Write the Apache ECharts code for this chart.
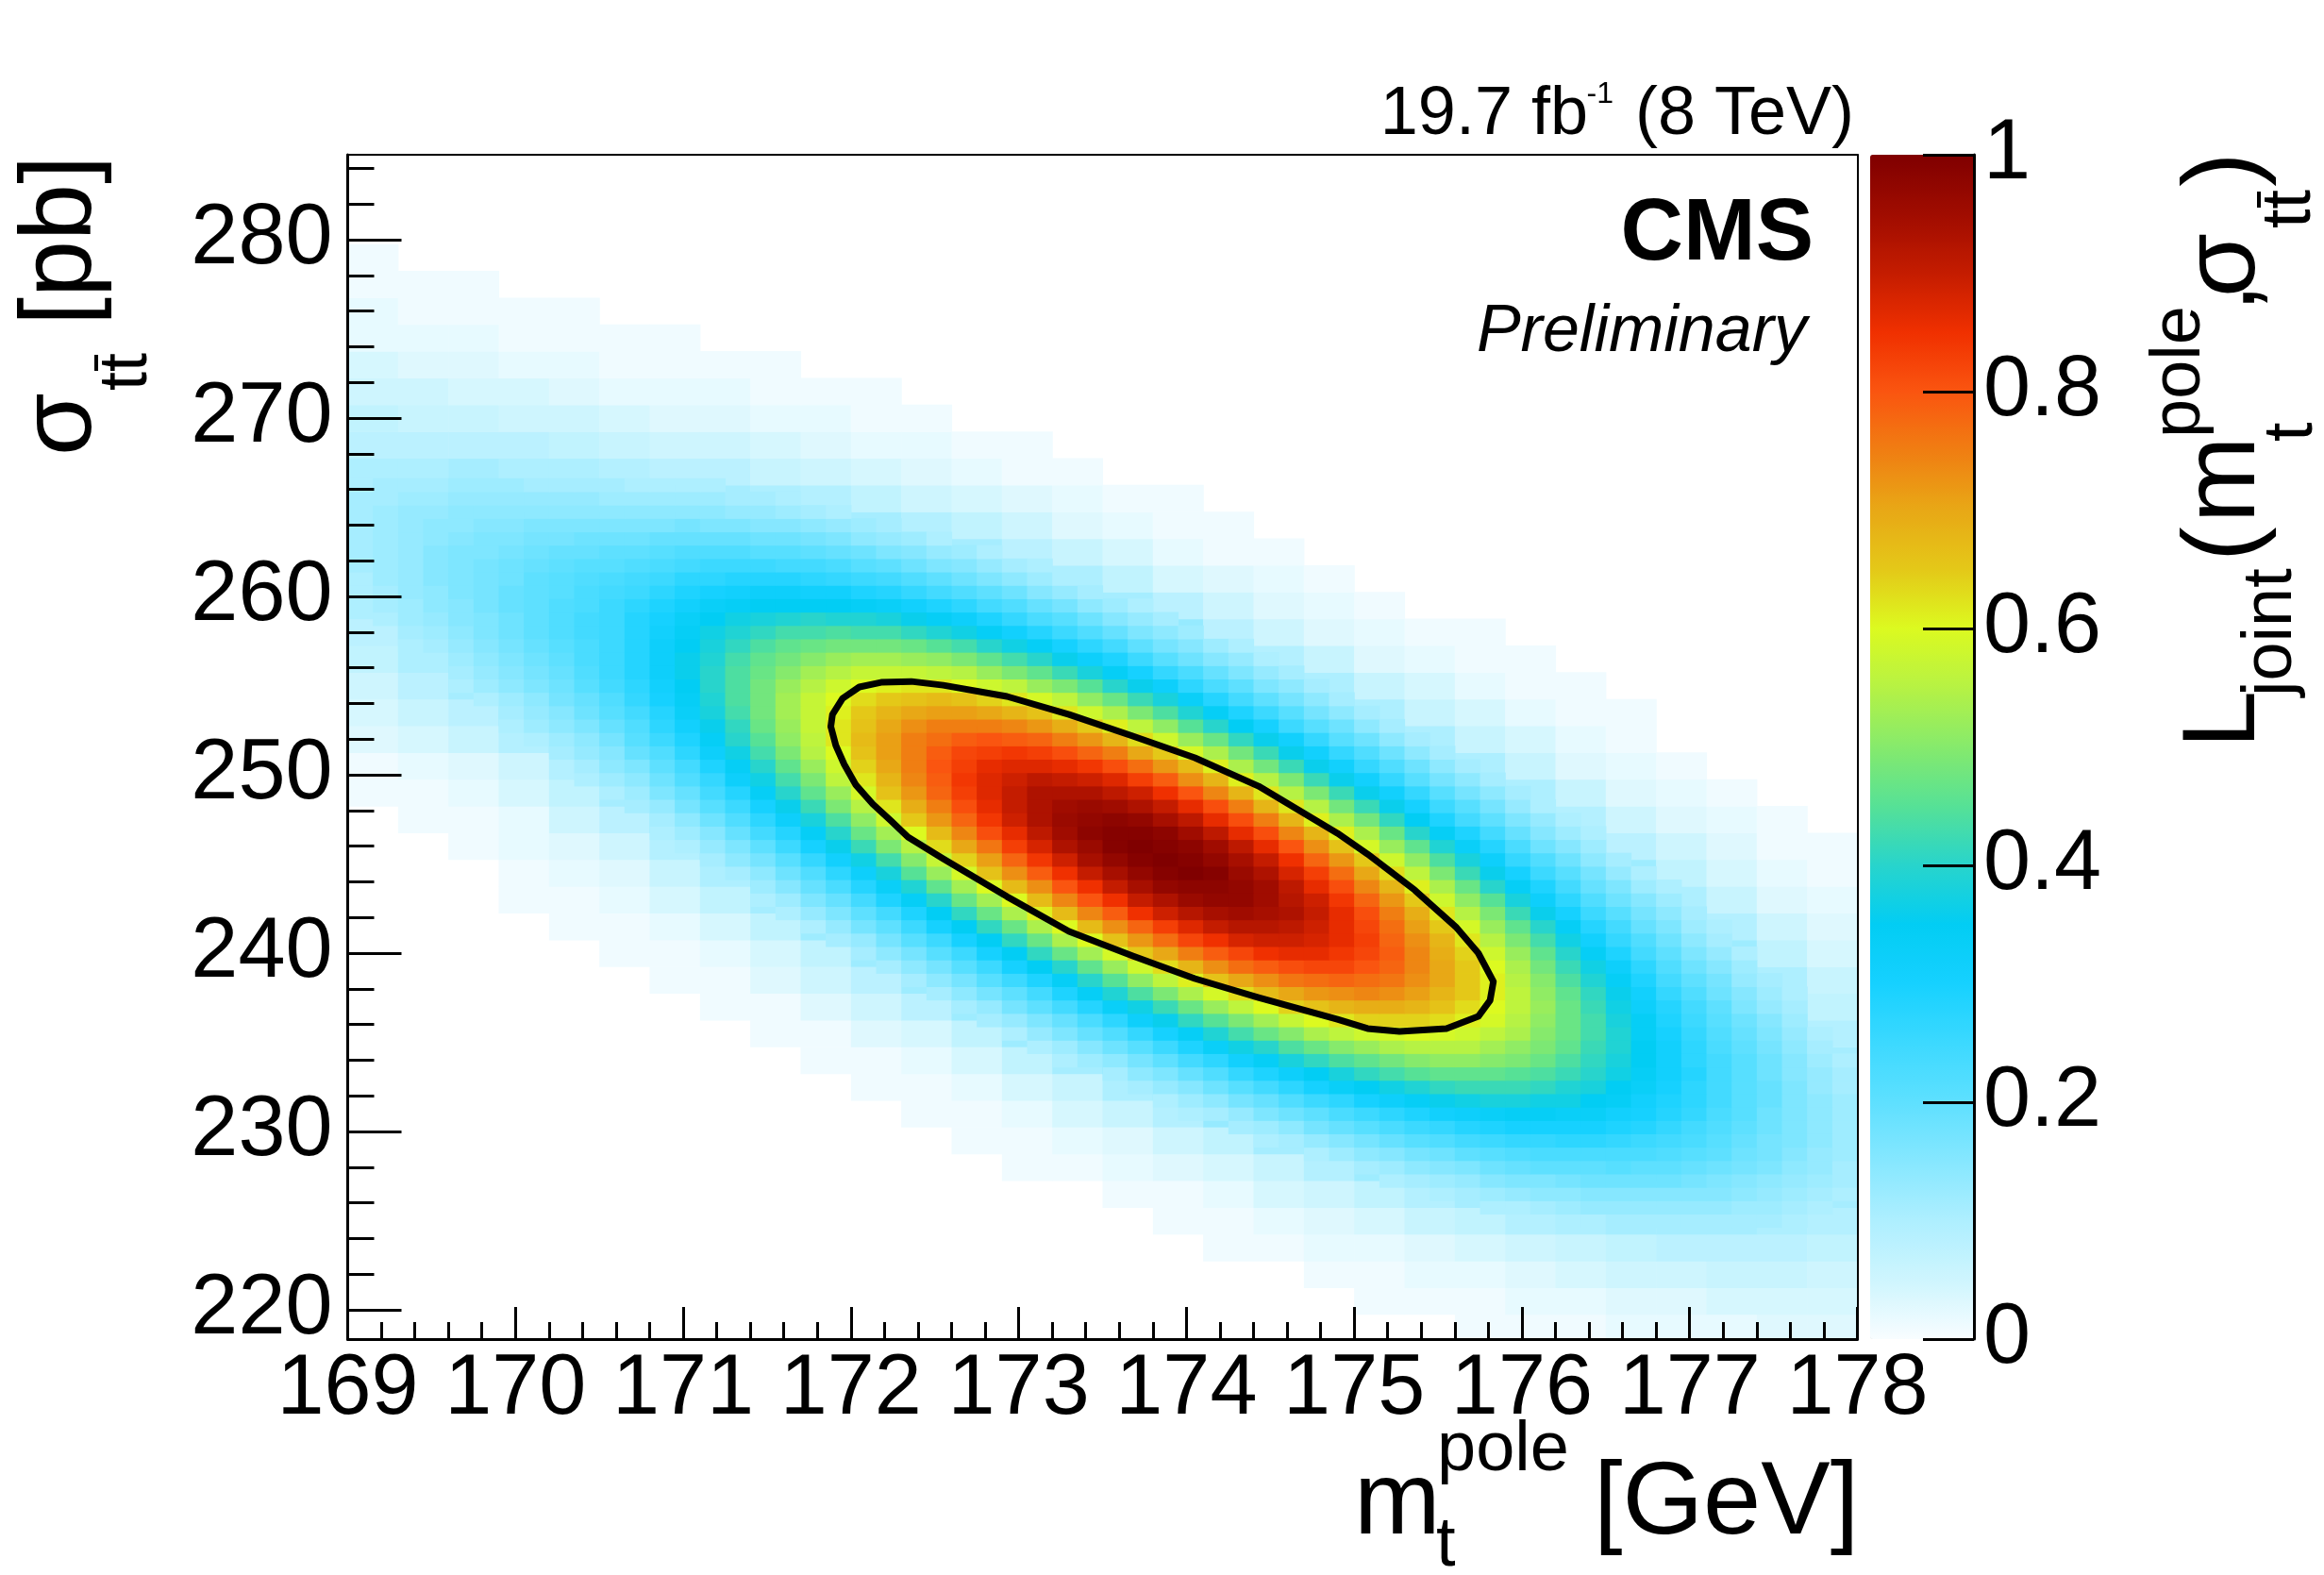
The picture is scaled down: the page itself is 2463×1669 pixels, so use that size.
<!DOCTYPE html>
<html>
<head>
<meta charset="utf-8">
<title>Joint likelihood in m_t^pole and sigma_tt</title>
<script src="https://cdn.jsdelivr.net/npm/echarts@6/dist/echarts.min.js"></script>
<style>
  html, body { margin: 0; padding: 0; background: #fff; }
  #chart { width: 2463px; height: 1669px; }
</style>
</head>
<body>
<div id="chart"></div>
<script>
const FONT = '"Liberation Sans", Arial, Helvetica, sans-serif';

// coarse scan over the whole plane: bin centres (GeV, pb)
const mtBins = [169.15, 169.45, 169.75, 170.05, 170.35, 170.65, 170.95, 171.25, 171.55, 171.85,
  172.15, 172.45, 172.75, 173.05, 173.35, 173.65, 173.95, 174.25, 174.55, 174.85,
  175.15, 175.45, 175.75, 176.05, 176.35, 176.65, 176.95, 177.25, 177.55, 177.85];
const sigmaBins = [219, 220.5, 222, 223.5, 225, 226.5, 228, 229.5, 231, 232.5, 234, 235.5, 237, 238.5,
  240, 241.5, 243, 244.5, 246, 247.5, 249, 250.5, 252, 253.5, 255, 256.5, 258, 259.5, 261, 262.5,
  264, 265.5, 267, 268.5, 270, 271.5, 273, 274.5, 276, 277.5, 279];

// L_joint in percent of its maximum, one row per sigma bin (bottom to top); missing trailing entries are zero
const likelihoodPct = [
  [0,0,0,0,0,0,0,0,0,0,  0,0,0,0,0,0,0,0,0,0,  0,0,1,1,1,2,2,2,3,3],
  [0,0,0,0,0,0,0,0,0,0,  0,0,0,0,0,0,0,0,0,0,  1,1,1,2,2,3,3,4,4,4],
  [0,0,0,0,0,0,0,0,0,0,  0,0,0,0,0,0,0,0,0,1,  1,2,2,3,4,5,5,6,6,5],
  [0,0,0,0,0,0,0,0,0,0,  0,0,0,0,0,0,0,1,1,2,  2,3,4,5,6,7,8,8,8,7],
  [0,0,0,0,0,0,0,0,0,0,  0,0,0,0,0,0,1,1,2,3,  4,6,7,9,10,11,11,11,10,9],
  [0,0,0,0,0,0,0,0,0,0,  0,0,0,0,0,1,1,2,4,5,  7,9,11,13,15,15,15,14,13,11],
  [0,0,0,0,0,0,0,0,0,0,  0,0,0,1,1,2,3,4,6,9,  12,14,17,19,20,20,19,18,15,12],
  [0,0,0,0,0,0,0,0,0,0,  0,0,1,1,2,3,5,7,11,14,  18,21,24,26,27,26,23,20,17,13],
  [0,0,0,0,0,0,0,0,0,0,  0,1,1,2,4,6,9,13,17,22,  27,30,33,34,33,30,27,22,17,13],
  [0,0,0,0,0,0,0,0,0,0,  1,1,2,4,6,10,14,20,25,31,  36,40,42,41,39,34,29,23,17,12],
  [0,0,0,0,0,0,0,0,0,1,  1,2,4,7,11,16,22,29,36,43,  48,50,50,48,43,36,29,22,16,11],
  [0,0,0,0,0,0,0,0,1,1,  3,4,7,12,17,24,32,41,49,55,  59,60,57,52,45,37,28,21,14,9],
  [0,0,0,0,0,0,0,1,1,3,  5,8,12,18,26,35,45,54,62,67,  69,67,62,54,44,35,26,18,12,7],
  [0,0,0,0,0,0,1,1,3,5,  8,12,19,27,37,48,59,68,75,78,  77,71,63,53,42,31,22,15,10,6],
  [0,0,0,0,0,1,1,2,4,7,  12,19,27,38,50,62,73,81,85,85,  80,72,61,49,37,27,18,12,7,4],
  [0,0,0,0,1,1,2,4,7,12,  18,27,38,51,64,76,85,91,92,88,  80,68,56,43,31,21,14,9,5,3],
  [0,0,0,1,1,2,4,7,11,18,  26,37,50,64,77,88,95,97,94,86,  75,62,48,35,25,16,10,6,3,2],
  [0,0,0,1,2,3,6,10,16,25,  35,48,62,76,88,96,99,98,91,80,  67,52,39,28,19,12,7,4,2,1],
  [0,0,1,2,3,5,9,15,22,33,  45,59,73,85,95,99,99,93,83,70,  56,42,30,20,13,8,5,3,1,1],
  [0,1,1,2,5,8,13,20,30,41,  54,68,81,91,97,97,93,84,72,58,  44,32,22,14,9,5,3,2,1],
  [1,1,2,4,7,11,17,26,37,49,  62,75,85,92,93,90,82,71,58,45,  33,23,15,10,6,3,2,1],
  [1,2,3,5,9,15,22,32,43,55,  67,78,85,87,85,79,69,58,45,34,  24,16,10,6,3,2,1],
  [3,4,6,9,13,19,27,37,48,59,  69,76,80,79,74,66,55,44,33,24,  16,10,6,4,2,1],
  [4,6,8,12,17,23,31,40,50,60,  66,71,71,67,60,51,41,32,23,16,  10,6,4,2,1,1],
  [5,8,11,15,19,25,33,42,50,57,  61,62,59,54,47,38,29,22,15,10,  6,4,2,1,1],
  [7,10,13,17,22,27,34,41,47,51,  53,51,47,41,34,27,20,14,9,6,  3,2,1,1],
  [8,11,15,19,23,27,33,38,42,44,  43,40,36,30,24,18,13,8,5,3,  2,1,1],
  [10,13,16,19,23,26,30,33,35,35,  33,30,25,20,16,11,8,5,3,2,  1],
  [11,14,17,19,21,23,26,28,28,27,  24,21,17,13,10,7,4,3,2,1],
  [12,14,16,18,19,20,21,22,21,19,  17,14,11,8,6,4,2,1,1],
  [12,13,15,16,16,16,17,16,15,13,  11,9,7,5,3,2,1,1],
  [11,12,13,13,13,12,12,11,10,9,  7,5,4,3,2,1,1],
  [10,10,11,10,10,9,8,8,6,5,  4,3,2,1,1],
  [8,8,8,8,7,6,5,5,4,3,  2,2,1,1],
  [7,6,6,5,5,4,3,3,2,2,  1,1],
  [5,5,4,4,3,2,2,2,1,1,  1],
  [4,3,3,2,2,1,1,1,1],
  [2,2,2,1,1,1,1],
  [2,1,1,1,1],
  [1,1,1],
  [1]
];

// finer scan where L >= 0.1, drawn over the coarse one
const fineMtBins = [169.075, 169.225, 169.375, 169.525, 169.675, 169.825, 169.975, 170.125, 170.275, 170.425,
  170.575, 170.725, 170.875, 171.025, 171.175, 171.325, 171.475, 171.625, 171.775, 171.925,
  172.075, 172.225, 172.375, 172.525, 172.675, 172.825, 172.975, 173.125, 173.275, 173.425,
  173.575, 173.725, 173.875, 174.025, 174.175, 174.325, 174.475, 174.625, 174.775, 174.925,
  175.075, 175.225, 175.375, 175.525, 175.675, 175.825, 175.975, 176.125, 176.275, 176.425,
  176.575, 176.725, 176.875, 177.025, 177.175, 177.325, 177.475, 177.625, 177.775, 177.925];
const fineSigmaBins = [225, 225.75, 226.5, 227.25, 228, 228.75, 229.5, 230.25, 231, 231.75,
  232.5, 233.25, 234, 234.75, 235.5, 236.25, 237, 237.75, 238.5, 239.25,
  240, 240.75, 241.5, 242.25, 243, 243.75, 244.5, 245.25, 246, 246.75,
  247.5, 248.25, 249, 249.75, 250.5, 251.25, 252, 252.75, 253.5, 254.25,
  255, 255.75, 256.5, 257.25, 258, 258.75, 259.5, 260.25, 261, 261.75,
  262.5, 263.25, 264, 264.75, 265.5, 266.25];
// first fineMtBins index of each fine row
const fineStart = [48, 45, 43, 41, 40, 38, 36, 35, 33, 32, 31, 30, 28, 27, 26, 25, 24, 23, 22, 21,
  20, 19, 18, 17, 16, 16, 15, 14, 13, 12, 12, 11, 10, 9, 9, 8, 7, 6, 6, 5,
  4, 4, 3, 2, 2, 1, 1, 0, 0, 0, 0, 0, 0, 0, 0, 0];
const fineLikelihoodPct = [
  [10,10,11,11,11,11,11,11,11,10],
  [10,10,11,12,13,13,13,13,13,13,12,12,11,10],
  [10,11,12,13,14,14,15,15,15,15,15,15,14,13,12,11,10],
  [10,11,12,13,15,16,16,17,18,18,18,18,17,16,15,14,13,12,11],
  [11,12,14,15,16,18,19,20,20,20,21,20,20,19,18,17,16,14,13,11],
  [10,12,14,15,17,18,20,21,22,23,23,23,23,23,22,21,20,18,17,15,13,12],
  [10,11,13,15,17,19,21,22,24,25,26,26,27,27,26,25,24,23,21,19,17,16,14,12],
  [11,12,14,17,19,21,23,25,26,28,29,30,30,30,30,29,28,26,24,22,20,18,16,14,12],
  [10,11,13,16,18,20,23,25,27,29,31,32,33,34,34,33,33,31,30,28,26,23,21,18,16,14,12],
  [10,12,14,17,19,22,25,27,30,32,34,36,37,38,38,37,37,35,34,31,29,27,24,21,19,16,14,12],
  [11,13,15,18,21,24,27,30,33,35,37,39,41,42,42,42,41,39,38,35,33,30,27,24,21,19,16,13,11],
  [11,14,16,19,22,26,29,32,35,38,41,43,45,46,46,46,45,44,42,40,37,34,31,28,24,21,18,15,13,11],
  [10,12,14,17,20,24,27,31,34,38,41,44,46,48,50,51,51,50,49,47,44,41,38,35,31,27,24,21,18,15,12,10],
  [10,12,15,18,21,25,29,33,37,40,44,47,50,52,54,55,55,55,53,51,49,46,42,39,35,31,27,23,20,17,14,11],
  [10,13,16,19,22,26,30,34,39,43,47,50,54,56,58,59,60,59,58,56,54,50,47,43,39,34,30,26,22,19,16,13,10],
  [11,13,16,19,23,27,32,36,41,45,49,53,57,60,62,64,64,64,63,61,59,55,51,47,43,38,34,29,25,21,18,15,12],
  [11,13,17,20,24,28,33,37,42,47,52,56,60,64,66,68,69,69,68,66,63,60,56,52,47,42,37,32,28,24,20,16,13,11],
  [11,14,17,20,24,29,34,39,44,49,54,59,63,67,70,72,73,74,73,71,68,65,61,56,51,46,41,36,31,26,22,18,15,12,10],
  [11,14,17,21,25,29,34,40,45,51,56,61,66,70,73,76,77,78,77,76,73,70,65,61,55,50,44,39,34,29,24,20,17,13,11],
  [11,14,17,21,25,30,35,40,46,52,58,63,68,73,77,79,81,82,82,80,78,74,70,65,60,54,48,42,37,32,27,22,18,15,12],
  [11,14,17,21,25,30,35,41,47,53,59,65,70,75,79,82,85,86,86,84,82,79,74,69,64,58,52,46,40,34,29,24,20,16,13,10],
  [11,13,17,21,25,30,35,41,47,54,60,66,72,77,82,85,88,89,89,88,86,83,78,73,68,62,55,49,43,37,31,26,22,18,14,11],
  [10,13,17,20,25,30,35,41,47,54,60,67,73,78,83,87,90,92,92,91,89,86,82,77,71,65,59,52,46,40,34,28,24,19,16,12,10],
  [10,13,16,20,24,29,35,41,47,54,61,67,74,79,85,89,92,94,95,94,93,90,86,81,75,69,62,55,49,42,36,30,25,21,17,14,11],
  [10,12,16,19,24,29,34,40,47,53,60,67,74,80,85,90,93,96,97,97,95,92,89,84,78,72,65,58,51,45,38,32,27,22,18,15,12],
  [12,15,19,23,28,33,39,46,53,60,67,73,80,85,90,94,97,98,98,97,95,91,86,81,74,68,61,54,47,40,34,29,24,19,16,12,10],
  [11,14,18,22,27,32,38,45,52,59,66,73,79,85,90,94,97,99,100,99,96,93,88,83,77,70,63,56,49,42,36,30,25,21,17,13,10],
  [11,14,17,21,26,31,37,43,50,57,64,71,78,84,89,94,97,99,100,99,97,94,90,85,78,72,65,58,51,44,38,32,26,22,18,14,11],
  [10,13,16,20,25,30,36,42,49,55,63,70,76,83,88,93,96,99,100,99,98,95,91,86,80,73,66,59,52,46,39,33,28,23,18,15,12],
  [10,12,15,19,24,28,34,40,47,53,60,67,74,81,86,91,95,98,99,99,98,95,91,86,81,74,68,61,54,47,40,34,29,24,19,15,12,10],
  [11,14,18,22,27,32,38,44,51,58,65,72,78,84,89,93,96,97,98,97,94,91,86,81,75,68,61,54,48,41,35,29,24,20,16,13,10],
  [11,13,17,21,25,30,36,42,49,55,62,69,75,81,86,90,93,95,96,95,93,90,86,81,75,68,62,55,48,42,36,30,25,21,17,13,10],
  [10,12,16,19,24,28,34,40,46,52,59,66,72,78,83,87,90,93,93,93,91,89,85,80,74,68,62,55,49,42,36,31,26,21,17,14,11],
  [10,12,14,18,22,26,32,37,43,49,56,62,68,74,79,84,87,89,91,90,89,87,83,79,73,68,61,55,49,42,36,31,26,21,17,14,11],
  [11,14,16,20,24,29,34,40,46,52,58,64,70,75,80,83,86,87,87,86,84,81,77,72,67,61,54,48,42,36,31,26,22,18,14,11],
  [11,13,15,19,22,27,32,37,43,49,55,60,66,71,75,79,82,83,84,83,81,78,75,70,65,59,54,48,42,36,31,26,22,18,14,11],
  [10,12,14,17,21,25,29,34,40,45,51,56,62,67,71,75,77,79,80,79,78,75,72,68,63,58,52,47,41,36,31,26,21,18,14,11],
  [10,12,14,16,19,22,27,31,36,41,47,52,57,62,66,70,73,75,75,75,74,72,69,65,61,56,51,45,40,35,30,25,21,18,14,11],
  [11,13,15,18,21,24,28,33,38,43,48,53,57,61,65,68,70,71,71,70,68,66,62,58,54,49,44,39,34,29,25,21,17,14,11],
  [10,12,14,17,19,22,26,30,34,39,44,48,53,57,60,63,65,66,67,66,64,62,59,56,51,47,42,38,33,28,24,20,17,14,11],
  [10,12,14,16,18,21,24,27,31,35,40,44,48,52,55,58,60,61,62,62,60,58,56,52,49,45,40,36,32,27,23,20,16,14,11],
  [11,13,15,17,19,22,25,28,32,36,40,44,47,50,53,55,57,57,57,56,55,52,49,46,42,38,34,30,26,23,19,16,13,11],
  [10,12,14,16,18,20,23,25,28,32,36,39,43,46,48,50,52,53,53,52,51,49,46,43,40,36,32,29,25,21,18,15,13,10],
  [10,11,13,15,17,19,21,23,25,28,32,35,38,41,44,46,47,48,48,48,47,45,43,40,37,34,30,27,24,20,17,15,12,10],
  [11,12,14,16,18,20,22,24,25,28,31,34,37,39,41,43,43,44,43,43,41,39,37,34,31,28,25,22,19,16,14,12],
  [10,12,13,15,16,18,20,22,24,25,28,30,33,35,37,38,39,40,39,39,38,36,34,32,29,26,23,21,18,15,13,11],
  [11,12,14,15,17,19,20,22,23,25,27,29,31,33,34,35,35,35,35,34,33,31,29,27,24,22,19,17,14,12,10],
  [10,11,13,14,16,17,19,20,21,23,24,25,27,29,30,31,32,32,31,31,29,28,26,24,22,20,18,15,13,11],
  [10,12,13,15,16,17,18,20,21,22,23,24,25,27,27,28,28,28,27,26,25,24,22,20,18,16,14,12,10],
  [11,12,13,15,16,17,18,19,20,21,21,22,23,24,25,25,25,24,24,23,21,20,18,16,15,13,11,10],
  [11,12,13,15,16,16,17,18,19,19,20,20,21,22,22,22,21,21,20,19,18,16,15,13,12,10],
  [11,12,13,14,15,16,16,17,17,18,18,18,19,19,19,19,18,18,17,16,14,13,12,10],
  [11,12,13,14,14,15,15,16,16,16,16,16,16,17,16,16,15,15,14,13,12,11],
  [11,12,13,13,14,14,14,14,14,14,14,14,14,14,14,13,13,12,11,10],
  [11,11,12,12,13,13,13,13,13,13,12,12,12,12,12,11,11,10],
  [10,11,11,11,12,12,12,11,11,11,11,10,10,10,10]
];

// black 1 sigma contour, traced around the ellipse
const contourMt = [171.88, 171.89, 171.95, 172.05, 172.18, 172.36, 172.55, 172.93, 173.30, 173.68,
  174.05, 174.43, 174.90, 175.08, 175.36, 175.61, 175.74, 175.83, 175.81, 175.74,
  175.55, 175.27, 175.08, 174.90, 174.43, 174.05, 173.68, 173.30, 172.93, 172.55,
  172.34, 172.24, 172.13, 172.03, 171.96, 171.91, 171.88];
const contourSigma = [252.70, 253.38, 254.28, 254.92, 255.18, 255.23, 255.02, 254.39, 253.38, 252.17,
  250.95, 249.36, 246.72, 245.55, 243.54, 241.43, 240.00, 238.41, 237.35, 236.45,
  235.77, 235.61, 235.77, 236.29, 237.51, 238.57, 239.84, 241.22, 243.17, 245.29,
  246.51, 247.41, 248.36, 249.42, 250.58, 251.64, 252.70];

const yMajorTicks = [220, 230, 240, 250, 260, 270, 280];
const yMinorTicks = [222, 224, 226, 228, 232, 234, 236, 238, 242, 244, 246, 248,
  252, 254, 256, 258, 262, 264, 266, 268, 272, 274, 276, 278, 282, 284];

const MT_MIN = 169, MT_MAX = 178;
const SIG_MIN = 218.36, SIG_MAX = 284.76;

// ROOT-like rainbow palette, 0 -> 1
const PALETTE = ['#f8fdff', '#cef5fe', '#aeefff', '#86e7ff', '#5ee0ff', '#3cd9ff', '#16d1ff',
  '#02cdf4', '#28d4cc', '#56e196', '#86ea6c', '#b6f244', '#dcfa20', '#e4c818', '#e8a816',
  '#f07e12', '#fa5510', '#f03000', '#c41c00', '#a00c00', '#800000'];

const cells = [];
sigmaBins.forEach((s, j) => {
  mtBins.forEach((m, k) => {
    const v = likelihoodPct[j][k] || 0;
    if (v > 0) cells.push([m, s, v / 100]);
  });
});
const fineCells = [];
fineSigmaBins.forEach((s, j) => {
  fineLikelihoodPct[j].forEach((v, i) => {
    fineCells.push([fineMtBins[fineStart[j] + i], s, v / 100]);
  });
});

function cellRenderer(halfMt, halfSig) {
  return function (params, api) {
    const m = api.value(0), s = api.value(1);
    const a = api.coord([m - halfMt, s + halfSig]);
    const b = api.coord([m + halfMt, s - halfSig]);
    return {
      type: 'rect',
      shape: { x: a[0], y: a[1], width: b[0] - a[0] + 0.6, height: b[1] - a[1] + 0.6 },
      style: { fill: api.visual('color') }
    };
  };
}

// text helper: place by baseline
const MID = 0.3465;
function txt(text, x, base, size, opt) {
  opt = opt || {};
  return {
    type: 'text', x: x, y: base - MID * size, silent: true,
    style: {
      text: text, fill: '#000',
      font: [opt.style || '', opt.weight || '', size + 'px', FONT].join(' ').trim(),
      align: opt.align || 'left', verticalAlign: 'middle'
    }
  };
}
function bar(x1, x2, y) {
  return { type: 'line', silent: true, shape: { x1: x1, y1: y, x2: x2, y2: y }, style: { stroke: '#000', lineWidth: 4 } };
}

const tickLabel = { color: '#000', fontSize: 90, fontFamily: FONT };
const blackLine = { color: '#000', width: 3 };

const chart = echarts.init(document.getElementById('chart'), null, { width: 2463, height: 1669, renderer: 'canvas' });

chart.setOption({
  animation: false,
  backgroundColor: '#ffffff',
  textStyle: { fontFamily: FONT },
  grid: [
    { left: 368.5, top: 164, width: 1600, height: 1255, containLabel: false, outerBoundsMode: 'none', show: false },
    { left: 1982, top: 164, width: 110, height: 1255, containLabel: false, outerBoundsMode: 'none', show: false }
  ],
  xAxis: [
    {
      gridIndex: 0, type: 'value', min: MT_MIN, max: MT_MAX, interval: 1, position: 'bottom', z: 10,
      axisLine: { show: true, onZero: false, lineStyle: blackLine },
      axisTick: { show: true, inside: true, length: 34, lineStyle: blackLine },
      minorTick: { show: true, splitNumber: 5, length: 18, lineStyle: blackLine },
      axisLabel: Object.assign({ margin: 9, showMinLabel: true, showMaxLabel: true }, tickLabel),
      splitLine: { show: false }
    },
    {
      gridIndex: 0, type: 'value', min: MT_MIN, max: MT_MAX, position: 'top', z: 10,
      axisLine: { show: true, onZero: false, lineStyle: { color: '#000', width: 2 } },
      axisTick: { show: false }, axisLabel: { show: false }, splitLine: { show: false }
    },
    { gridIndex: 1, type: 'value', min: 0, max: 1, show: false }
  ],
  yAxis: [
    {
      gridIndex: 0, type: 'value', min: SIG_MIN, max: SIG_MAX, position: 'left', z: 10,
      axisLine: { show: true, onZero: false, lineStyle: blackLine },
      axisTick: { show: true, inside: true, length: 57, lineStyle: blackLine, customValues: yMajorTicks },
      axisLabel: Object.assign({ margin: 16, customValues: yMajorTicks }, tickLabel),
      splitLine: { show: false }
    },
    {
      gridIndex: 0, type: 'value', min: SIG_MIN, max: SIG_MAX, position: 'left', z: 10,
      axisLine: { show: false },
      axisTick: { show: true, inside: true, length: 28, lineStyle: blackLine, customValues: yMinorTicks },
      axisLabel: { show: false }, splitLine: { show: false }
    },
    {
      gridIndex: 0, type: 'value', min: SIG_MIN, max: SIG_MAX, position: 'right', z: 10,
      axisLine: { show: true, onZero: false, lineStyle: { color: '#000', width: 2 } },
      axisTick: { show: false }, axisLabel: { show: false }, splitLine: { show: false }
    },
    {
      gridIndex: 1, type: 'value', min: 0, max: 1, interval: 0.2, position: 'right', z: 10,
      axisLine: { show: true, onZero: false, lineStyle: blackLine },
      axisTick: { show: true, inside: true, length: 54, lineStyle: blackLine },
      axisLabel: Object.assign({ margin: 10 }, tickLabel),
      splitLine: { show: false }
    }
  ],
  visualMap: {
    type: 'continuous', min: 0, max: 1, dimension: 2, seriesIndex: [0, 1],
    calculable: false, realtime: false, showLabel: false,
    left: 1982, top: 164, itemWidth: 110, itemHeight: 1255, padding: 0,
    inRange: { color: PALETTE }
  },
  series: [
    {
      name: 'L_joint', type: 'custom', xAxisIndex: 0, yAxisIndex: 0,
      data: cells, encode: { x: 0, y: 1 }, clip: true, silent: true, z: 1,
      renderItem: cellRenderer((mtBins[1] - mtBins[0]) / 2, (sigmaBins[1] - sigmaBins[0]) / 2)
    },
    {
      name: 'L_joint fine', type: 'custom', xAxisIndex: 0, yAxisIndex: 0,
      data: fineCells, encode: { x: 0, y: 1 }, clip: true, silent: true, z: 2,
      renderItem: cellRenderer((fineMtBins[1] - fineMtBins[0]) / 2, (fineSigmaBins[1] - fineSigmaBins[0]) / 2)
    },
    {
      name: '1 sigma', type: 'line', xAxisIndex: 0, yAxisIndex: 0, z: 5, silent: true,
      data: contourMt.map((m, i) => [m, contourSigma[i]]),
      symbol: 'none', showSymbol: false, smooth: false,
      lineStyle: { color: '#000', width: 7, join: 'round', cap: 'round' }
    }
  ],
  graphic: {
    elements: [
      txt('19.7 fb', 1683, 147, 72, { align: 'right' }),
      txt('-1', 1710, 111, 32, { align: 'right' }),
      txt('(8 TeV)', 1965, 147, 72, { align: 'right' }),
      txt('CMS', 1922, 282, 92, { align: 'right', weight: 'bold' }),
      txt('Preliminary', 1915, 377, 70, { align: 'right', style: 'italic' }),

      txt('m', 1435, 1633, 110),
      txt('t', 1522, 1664, 74),
      txt('pole', 1523, 1563, 74),
      txt('[GeV]', 1689, 1633, 110),

      {
        type: 'group', x: 104, y: 480, rotation: Math.PI / 2,
        children: [
          txt('\u03c3', -3, 0, 108),
          txt('tt', 66, 56, 72),
          bar(87, 104, -2),
          txt('[pb]', 135, 0, 108)
        ]
      },
      {
        type: 'group', x: 2397, y: 785, rotation: Math.PI / 2,
        children: [
          txt('L', -8, 0, 110),
          txt('joint', 47, 36, 74),
          txt('(', 190, 0, 110),
          txt('m', 231, 0, 110),
          txt('t', 317, 58, 74),
          txt('pole', 321, -61, 74),
          txt(',', 454, 0, 110),
          txt('\u03c3', 470, 0, 110),
          txt('tt', 543, 56, 74),
          bar(565, 582, -3),
          txt(')', 587, 0, 110)
        ]
      }
    ]
  }
});
</script>
</body>
</html>
